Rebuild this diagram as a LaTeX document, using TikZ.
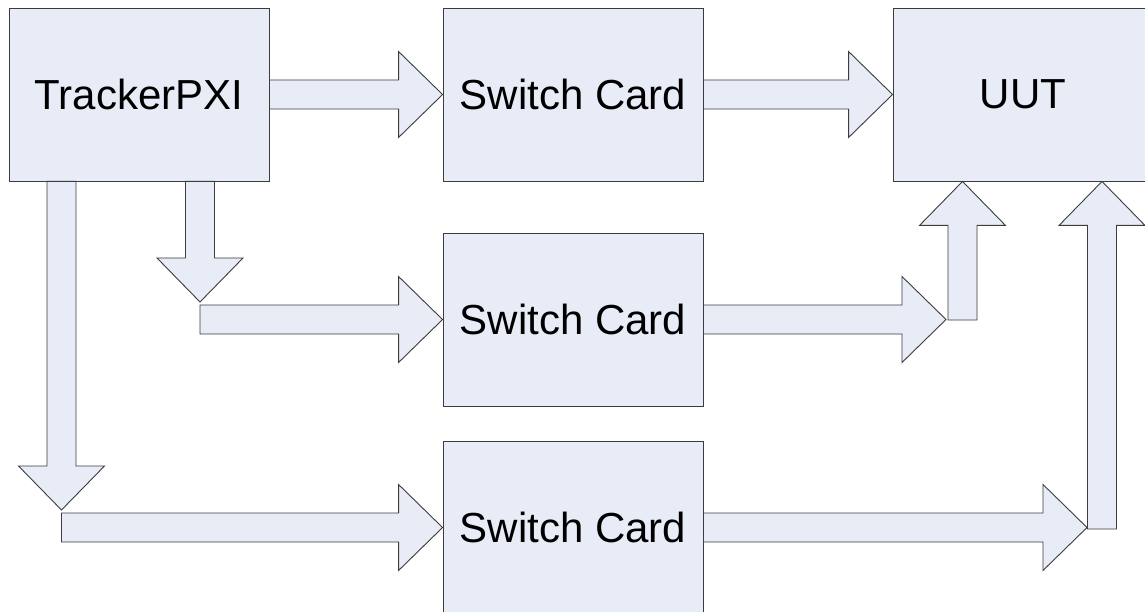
\documentclass[tikz,border=0pt]{standalone}
\usepackage{fontspec}
\setmainfont{Liberation Sans}
\usetikzlibrary{calc}
\definecolor{boxfill}{RGB}{231,236,247}
\definecolor{boxline}{RGB}{60,60,60}
\tikzset{
  blk/.style={draw=boxline, fill=boxfill, line width=0.9pt, line join=miter},
  card/.style={blk, rectangle, minimum width=260pt, minimum height=173pt, inner sep=0pt,
    font=\fontsize{42pt}{46pt}\selectfont},
}
% right block arrow: start #1, tip #2 (y taken from tip)
\newcommand{\rarr}[2]{\draw[blk] let \p1=(#1),\p2=(#2) in
  (\x1,\y2+14.5pt) -- (\x2-44pt,\y2+14.5pt) -- (\x2-44pt,\y2+43pt) -- (\x2,\y2)
  -- (\x2-44pt,\y2-43pt) -- (\x2-44pt,\y2-14.5pt) -- (\x1,\y2-14.5pt) -- cycle;}
% down block arrow: start #1 (top), tip #2 (x taken from start)
\newcommand{\darr}[2]{\draw[blk] let \p1=(#1),\p2=(#2) in
  (\x1-14.5pt,\y1) -- (\x1-14.5pt,\y2+44pt) -- (\x1-43pt,\y2+44pt) -- (\x1,\y2)
  -- (\x1+43pt,\y2+44pt) -- (\x1+14.5pt,\y2+44pt) -- (\x1+14.5pt,\y1) -- cycle;}
% up block arrow: start #1 (bottom), tip #2 (x taken from start)
\newcommand{\uarr}[2]{\draw[blk] let \p1=(#1),\p2=(#2) in
  (\x1-14.5pt,\y1) -- (\x1-14.5pt,\y2-44pt) -- (\x1-43pt,\y2-44pt) -- (\x1,\y2)
  -- (\x1+43pt,\y2-44pt) -- (\x1+14.5pt,\y2-44pt) -- (\x1+14.5pt,\y1) -- cycle;}
\begin{document}
\begin{tikzpicture}[x=1pt,y=-1pt]
\useasboundingbox (0,0) rectangle (1145,612);
\node[card] (tr)  at (139,94.5)  {TrackerPXI};
\node[card] (sc1) at (573,94.5)  {Switch Card};
\node[card] (sc2) at (573,319.5) {Switch Card};
\node[card] (sc3) at (573,527.5) {Switch Card};
\node[card] (uut) at (1023,94.5) {UUT};
% free ends
\coordinate (d1top) at (tr.south -| 200,0);
\coordinate (d1tip) at (200,302);
\coordinate (d2top) at (tr.south -| 61.5,0);
\coordinate (d2tip) at (61.5,510);
\coordinate (r4tip) at (946,319.5);
\coordinate (u1bot) at (962.5,320);
\coordinate (u1top) at (uut.south -| 962.5,0);
\coordinate (r5tip) at (1087,527.5);
\coordinate (u2bot) at (1102,529);
\coordinate (u2top) at (uut.south -| 1102,0);
% arrows
\rarr{tr.east}{sc1.west}
\rarr{sc1.east}{uut.west}
\darr{d1top}{d1tip}
\rarr{d1tip}{sc2.west}
\darr{d2top}{d2tip}
\rarr{d2tip}{sc3.west}
\uarr{u1bot}{u1top}
\rarr{sc2.east}{r4tip}
\uarr{u2bot}{u2top}
\rarr{sc3.east}{r5tip}
\end{tikzpicture}
\end{document}
